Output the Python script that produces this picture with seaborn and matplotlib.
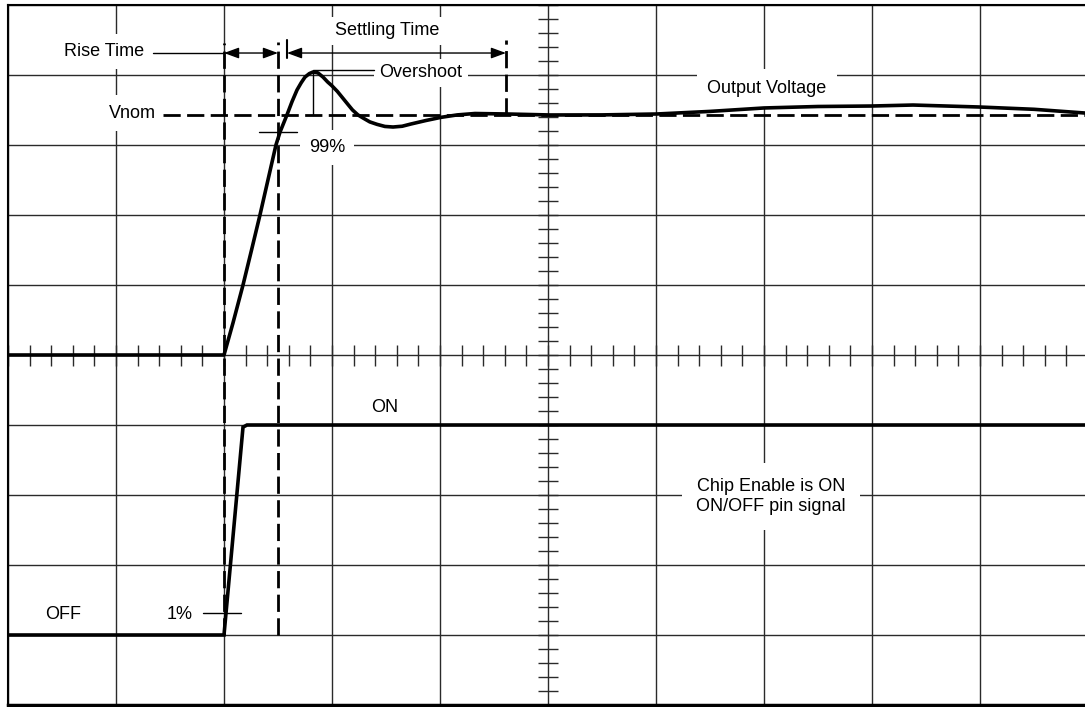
import matplotlib
matplotlib.use('Agg')
import matplotlib.pyplot as plt
import seaborn as sns
import numpy as np

# --- data, in scope divisions (x: 0..10, y: 0..10) ---
output_x = [0.0, 2.0, 2.083, 2.176, 2.255, 2.333, 2.407, 2.481, 2.519, 2.583,
            2.63, 2.676, 2.715, 2.75, 2.79, 2.824, 2.87, 2.917, 2.96, 3.0,
            3.05, 3.10, 3.15, 3.19, 3.24, 3.287, 3.35, 3.417, 3.49, 3.565,
            3.65, 3.731, 3.87, 4.009, 4.16, 4.324, 4.62, 5.019, 5.5, 6.009,
            6.5, 7.0, 7.5, 8.0, 8.38, 8.99, 9.5, 9.97]
output_y = [5.0, 5.0, 5.457, 6.0, 6.5, 7.0, 7.5, 8.0, 8.186, 8.43,
            8.62, 8.786, 8.89, 8.97, 9.02, 9.043, 9.03, 8.97, 8.90, 8.845,
            8.765, 8.67, 8.575, 8.5, 8.43, 8.386, 8.33, 8.295, 8.265, 8.257,
            8.268, 8.3, 8.35, 8.395, 8.43, 8.45, 8.443, 8.429, 8.43, 8.443,
            8.48, 8.529, 8.55, 8.557, 8.571, 8.543, 8.51, 8.457]

enable_x = [0.0, 2.0, 2.176, 2.213, 9.97]
enable_y = [1.0, 1.0, 3.97, 4.0, 4.0]

v_nom = 8.43
t_start = 2.0      # 1% of enable
t_rise = 2.5       # 99% of output
t_settle0 = 2.583
t_settle1 = 4.611
t_peak = 2.824
y_peak = 9.043

sns.set_theme(style='white')
plt.rcParams['font.family'] = ['Liberation Sans Narrow', 'Liberation Sans', 'DejaVu Sans']

W, H = 1085, 707
fig = plt.figure(figsize=(W / 100, H / 100), dpi=100)
ax = fig.add_axes([8 / W, 2 / H, 1077 / W, 700 / H])
ax.set_xlim(0, 1077 / 108)
ax.set_ylim(0, 10)

# scope graticule
ax.set_xticks(range(0, 10))
ax.set_yticks(range(0, 11))
ax.tick_params(length=0, labelbottom=False, labelleft=False)
ax.set_axisbelow(True)
ax.grid(True, color='#2a2a2a', lw=1.0)
for s in ['left', 'top', 'bottom']:
    ax.spines[s].set_color('black')
    ax.spines[s].set_linewidth(1.5)
ax.spines['bottom'].set_linewidth(2.5)
ax.spines['right'].set_visible(False)

minor = np.arange(0, 10.01, 0.2)
ax.vlines(minor, 5 - 0.15, 5 + 0.15, color='#2a2a2a', lw=1.0, zorder=1)
ax.hlines(minor, 5 - 0.09, 5 + 0.09, color='#2a2a2a', lw=1.0, zorder=1)

# signals
sns.lineplot(x=output_x, y=output_y, sort=False, estimator=None, ax=ax,
             color='black', lw=2.6, zorder=5, solid_joinstyle='round')
sns.lineplot(x=enable_x, y=enable_y, sort=False, estimator=None, ax=ax,
             color='black', lw=2.6, zorder=5, solid_joinstyle='miter')

dash = (0, (6.2, 2.3))
ax.plot([t_start, t_start], [1.0, 9.457], color='black', lw=2.0, ls=dash, zorder=4)
ax.plot([t_rise, t_rise], [1.0, 9.47], color='black', lw=2.0, ls=dash, zorder=4)
ax.plot([t_settle1, t_settle1], [v_nom, 9.5], color='black', lw=2.0, ls=dash, zorder=4)
ax.plot([1.435, 1077 / 108], [v_nom, v_nom], color='black', lw=2.0, ls=dash, zorder=4)
ax.plot([t_settle0, t_settle0], [9.24, 9.5], color='black', lw=1.5, zorder=4)

# arrows and leaders
arr_y = 9.314
for a, b in [(t_start, t_rise), (t_settle0, t_settle1)]:
    ax.annotate('', xy=(b, arr_y), xytext=(a, arr_y), zorder=4,
                arrowprops=dict(arrowstyle='<|-|>,head_length=0.6,head_width=0.22',
                                color='black', lw=1.0,
                                mutation_scale=15, shrinkA=0, shrinkB=0))
thin = dict(color='black', lw=1.0, zorder=4)
ax.plot([1.343, t_start], [arr_y, arr_y], **thin)
ax.plot([t_peak, t_peak], [v_nom, y_peak], **thin)
ax.plot([t_peak, 3.39], [9.071, 9.071], **thin)
ax.plot([2.324, 2.676], [8.186, 8.186], **thin)
ax.plot([1.806, 2.157], [1.314, 1.314], **thin)

# labels
fs = 13
def label(x, y, s, pad=0.5, **kw):
    ax.text(x, y, s, ha='center', va='center', fontsize=fs, color='black', zorder=3,
            bbox=dict(boxstyle=f'square,pad={pad}', facecolor='white', edgecolor='none'), **kw)

label(0.889, 9.329, 'Rise Time')
label(3.509, 9.629, 'Settling Time', pad=0.3)
label(3.824, 9.029, 'Overshoot', pad=0.3)
label(1.148, 8.457, 'Vnom')
label(2.954, 7.971, '99%')
label(7.028, 8.814, 'Output Voltage', pad=0.6)
label(3.491, 4.257, 'ON', pad=0.3)
label(0.509, 1.286, 'OFF', pad=0.3)
label(1.593, 1.286, '1%', pad=0.3)
label(7.065, 2.979, 'Chip Enable is ON\nON/OFF pin signal', pad=0.8, linespacing=1.25)

fig.savefig('out.png', dpi=100, facecolor='white')
